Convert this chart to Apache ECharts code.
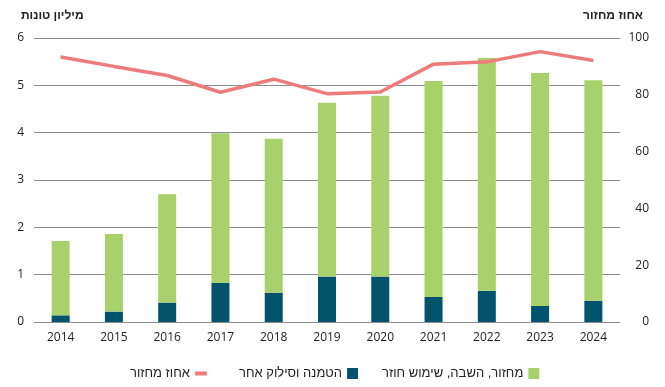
<!DOCTYPE html>
<html>
<head>
<meta charset="utf-8">
<script src="https://cdn.jsdelivr.net/npm/echarts@6/dist/echarts.min.js"></script>
<style>html,body{margin:0;padding:0;background:#fff}#c{width:665px;height:387px}</style>
</head>
<body>
<div id="c"></div>
<script>
const years = ['2014','2015','2016','2017','2018','2019','2020','2021','2022','2023','2024'];
const landfill = [0.14, 0.22, 0.41, 0.83, 0.62, 0.96, 0.96, 0.53, 0.66, 0.34, 0.45];
const recycled = [1.57, 1.64, 2.29, 3.16, 3.25, 3.67, 3.82, 4.56, 4.92, 4.92, 4.66];
const recycleRate = [93.3, 90.0, 86.8, 80.9, 85.5, 80.4, 81.0, 90.8, 91.6, 95.2, 92.1];
const leftTicks = [0, 1, 2, 3, 4, 5, 6];
const rightTicks = [0, 20, 40, 60, 80, 100];

const names = {
  recycled: 'מחזור, השבה, שימוש חוזר',
  landfill: 'הטמנה וסילוק אחר',
  rate: 'אחוז מחזור'
};
const FONT = "'Open Sans', 'DejaVu Sans', sans-serif";
const HFONT = "'Liberation Sans', 'DejaVu Sans', sans-serif";

const chart = echarts.init(document.getElementById('c'));
chart.setOption({
  animation: false,
  textStyle: { fontFamily: FONT },
  title: [
    { text: 'מיליון טונות', left: 16, top: 5, textStyle: { fontFamily: HFONT, fontSize: 12, fontWeight: 'bold', color: '#222' } },
    { text: 'אחוז מחזור', right: 17, top: 5, textStyle: { fontFamily: HFONT, fontSize: 12, fontWeight: 'bold', color: '#222' } }
  ],
  grid: { left: 34, right: 45, top: 38, bottom: 65 },
  legend: [
    {
      top: 362,
      left: 234,
      align: 'right',
      icon: 'rect',
      itemWidth: 11,
      itemHeight: 11,
      itemGap: 24,
      textStyle: { fontFamily: HFONT, fontSize: 13, color: '#222' },
      data: [names.landfill, names.recycled]
    },
    {
      top: 362,
      left: 125,
      align: 'right',
      icon: 'roundRect',
      itemWidth: 12,
      itemHeight: 4,
      textStyle: { fontFamily: HFONT, fontSize: 13, color: '#222', lineHeight: 11 },
      data: [names.rate]
    }
  ],
  xAxis: {
    type: 'category',
    data: years,
    axisLine: { show: false },
    axisTick: { show: false },
    axisLabel: { fontFamily: FONT, fontSize: 12, color: '#222', margin: 10 }
  },
  yAxis: [
    {
      type: 'value', min: 0, max: leftTicks[leftTicks.length - 1], interval: 1,
      axisLine: { show: false }, axisTick: { show: false },
      splitLine: { lineStyle: { color: '#8c8c8c', width: 1 } },
      axisLabel: { fontFamily: FONT, fontSize: 12, color: '#222', margin: 10 }
    },
    {
      type: 'value', min: 0, max: rightTicks[rightTicks.length - 1], interval: 20,
      axisLine: { show: false }, axisTick: { show: false },
      splitLine: { show: false },
      axisLabel: { fontFamily: FONT, fontSize: 12, color: '#222', margin: 29, align: 'right' }
    }
  ],
  series: [
    {
      name: names.landfill, type: 'bar', stack: 'total', data: landfill,
      barWidth: 18, itemStyle: { color: '#00536a' }
    },
    {
      name: names.recycled, type: 'bar', stack: 'total', data: recycled,
      barWidth: 18, itemStyle: { color: '#a8d06b' }
    },
    {
      name: names.rate, type: 'line', yAxisIndex: 1, data: recycleRate,
      symbol: 'none', lineStyle: { color: '#ec7b7b', width: 3.5 }, itemStyle: { color: '#ec7b7b' }
    }
  ]
});
</script>
</body>
</html>
